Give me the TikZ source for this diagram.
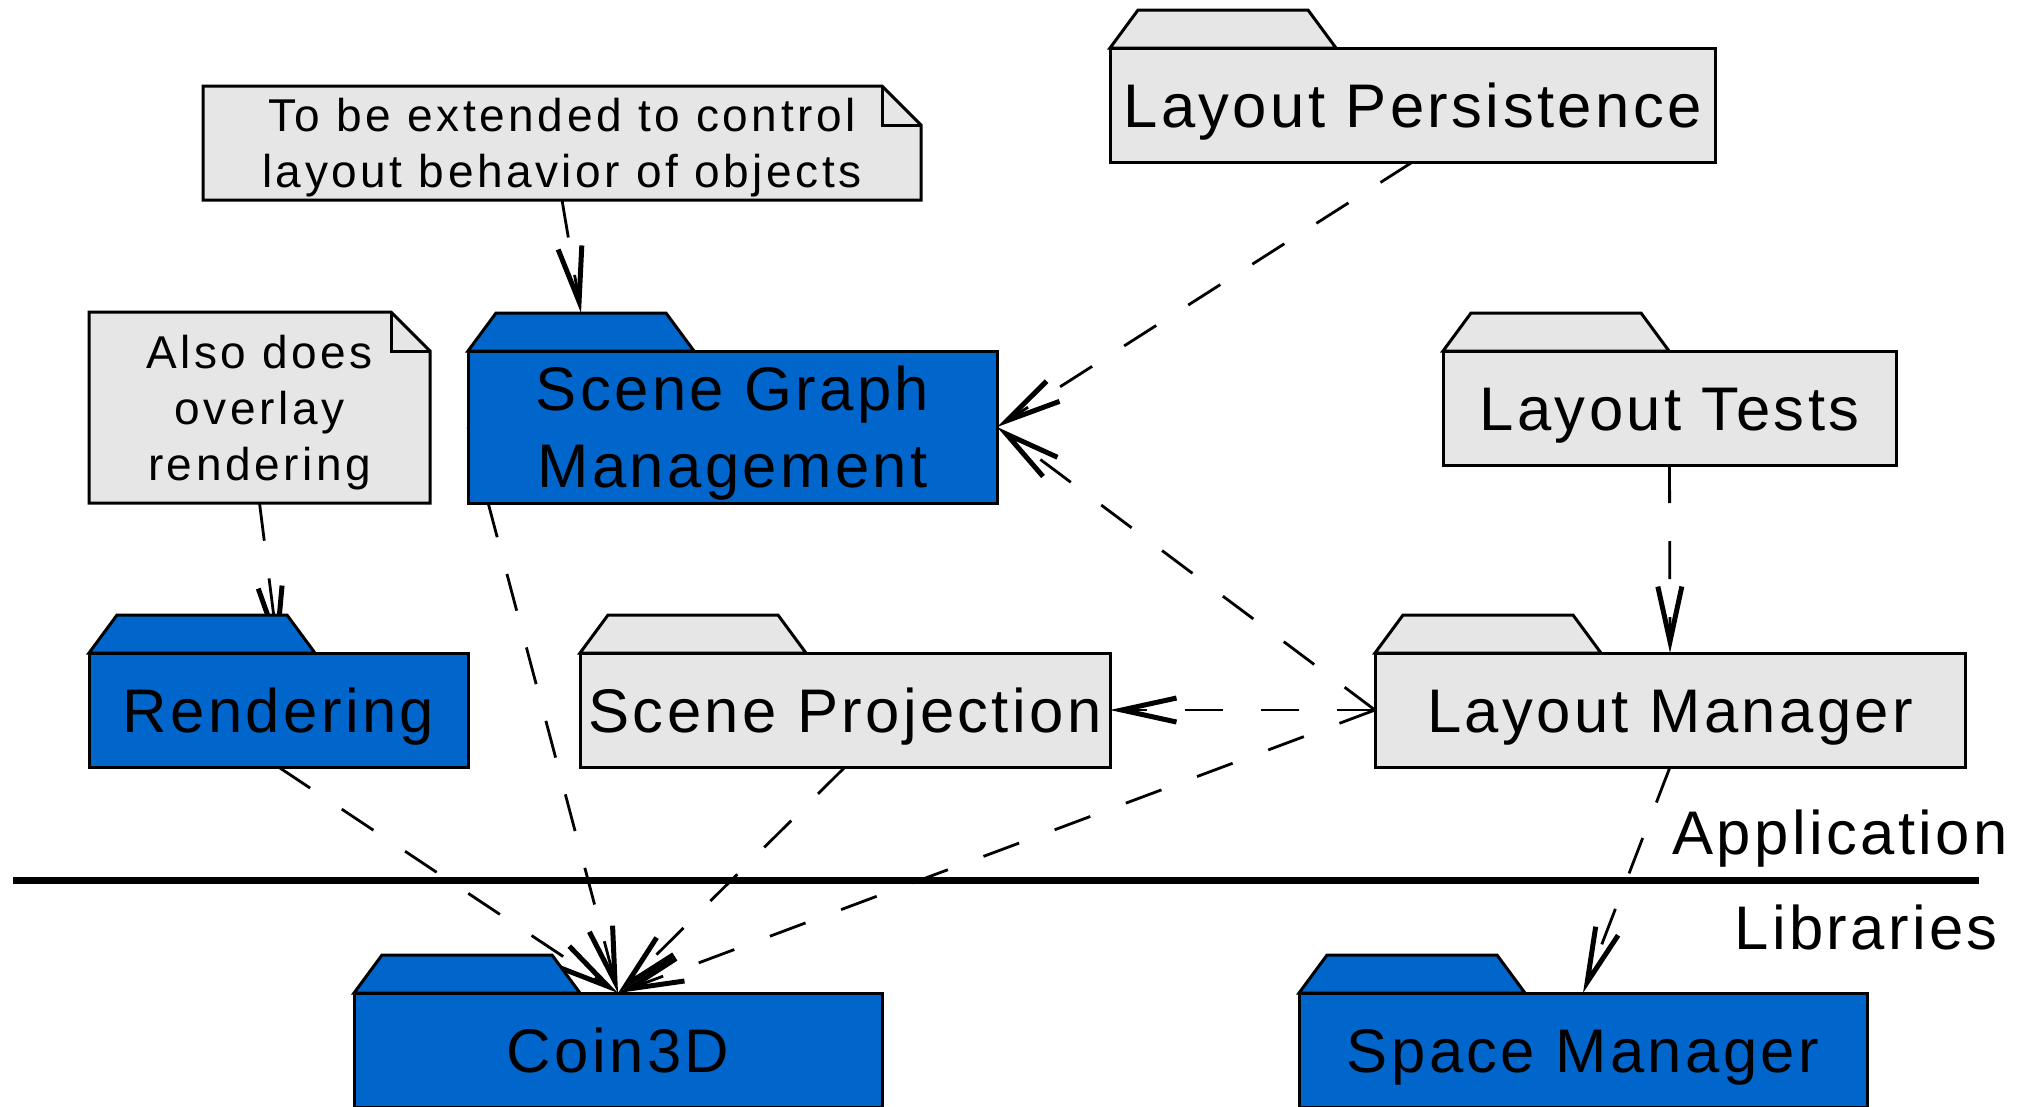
\documentclass[tikz,border=0pt]{standalone}
\usepackage{fontspec}
\setmainfont{Liberation Sans}[LetterSpace=5.5]
\usetikzlibrary{arrows.meta}
\definecolor{pkgblue}{HTML}{0066CC}
\definecolor{pkggray}{HTML}{E6E6E6}
\newcommand\pxu{0.25pt}
\pgfdeclarelayer{back}
\pgfsetlayers{back,main}

\begin{document}
\begin{tikzpicture}[x=0.25pt, y=-0.25pt,
        folder/.style={draw, line width=0.75pt, inner sep=0pt, outer sep=0pt, align=center,
            font=\fontsize{15.4pt}{19.25pt}\selectfont, text height=11pt, text depth=0pt},
        tab/.style={draw, line width=0.75pt},
        note/.style={inner sep=0pt, outer sep=0pt, align=center,
            font=\fontsize{11.5pt}{14pt}\selectfont\addfontfeatures{LetterSpace=7.7}, text depth=0pt},
        notebox/.style={draw, line width=0.75pt, fill=pkggray},
        dep/.style={line width=0.7pt, dash pattern=on 9.5pt off 9.5pt,
            -{Straight Barb[length=13.7pt, width=6pt, line width=1.25pt]}},
        sepline/.style={line width=1.75pt},
        layer/.style={font=\fontsize{15.4pt}{19.25pt}\selectfont}]

            \useasboundingbox (0,0) rectangle (2020,1106);

            % packages
            \node[folder, fill=pkggray, minimum width=605*\pxu, minimum height=114*\pxu] (lp) at (1412.5,105) {Layout Persistence};
            \node[folder, fill=pkgblue, minimum width=529*\pxu, minimum height=152*\pxu, text height=30.25pt] (sgm) at (732.5,427) {Scene Graph\\Management};
            \node[folder, fill=pkggray, minimum width=453*\pxu, minimum height=114*\pxu] (lt) at (1669.5,408) {Layout Tests};
            \node[folder, fill=pkgblue, minimum width=379*\pxu, minimum height=114*\pxu] (ren) at (278.5,710) {Rendering};
            \node[folder, fill=pkggray, minimum width=530*\pxu, minimum height=114*\pxu] (sp) at (845,710) {Scene Projection};
            \node[folder, fill=pkggray, minimum width=590*\pxu, minimum height=114*\pxu] (lm) at (1670,710) {Layout Manager};
            \node[folder, fill=pkgblue, minimum width=528*\pxu, minimum height=114*\pxu] (coin) at (618,1050) {Coin3D};
            \node[folder, fill=pkgblue, minimum width=568*\pxu, minimum height=114*\pxu] (spm) at (1583,1050) {Space Manager};
            \foreach \f/\c in {lp/pkggray, sgm/pkgblue, lt/pkggray, ren/pkgblue, sp/pkggray, lm/pkggray, coin/pkgblue, spm/pkgblue} {
                \draw[tab, fill=\c] (\f.north west) -- ++(28,-38) -- ++(85,0) coordinate (\f-tab) -- ++(85,0) -- ++(28,38) -- cycle;
            }

            % notes
            \node[note, minimum width=718*\pxu, minimum height=114*\pxu, text height=22.25pt] (n1) at (562,143) {To be extended to control\\layout behavior of objects};
            \node[note, minimum width=341*\pxu, minimum height=191*\pxu, text height=36.25pt] (n2) at (259.5,407.5) {Also does\\overlay\\rendering};

            % layers
            \draw[sepline] (13,880) -- (1979,880);
            \node[layer, anchor=base] (app) at (1840,854) {Application};
            \node[layer, anchor=base] (lib) at (1866,949) {Libraries};

            \begin{pgfonlayer}{back}
                \foreach \n in {n1,n2} {
                    \draw[notebox] (\n.south west) -- (\n.north west) -- ([xshift=-39*\pxu]\n.north east)
                        -- ([yshift=-39*\pxu]\n.north east) -- (\n.south east) -- cycle;
                    \draw[notebox, fill=none] ([xshift=-39*\pxu]\n.north east) |- ([yshift=-39*\pxu]\n.north east);
                }
                % dependencies
                \draw[dep] (n1.south) -- (sgm-tab);
                \draw[dep] (n2.south) -- (ren.north);
                \draw[dep] (lp.south) -- (sgm.east);
                \draw[dep] (lm.west) -- (sgm.east);
                \draw[dep] (lm.west) -- (sp.east);
                \draw[dep] (lt.south) -- (lm.north);
                \draw[dep] (lm.south) -- (spm.north);
                \foreach \s in {sgm.west, ren.south, sp.south, lm.west} {
                    \draw[dep] (\s) -- (coin.north);
                }
            \end{pgfonlayer}
        \end{tikzpicture}
\end{document}
